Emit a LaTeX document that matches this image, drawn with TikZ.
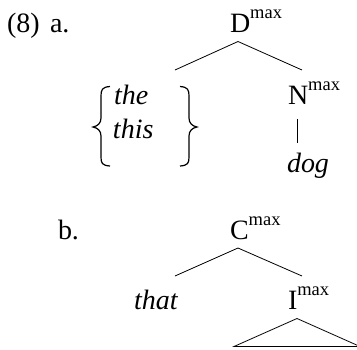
\documentclass[tikz,border=0pt]{standalone}
\usepackage{fontspec}
\setmainfont{Liberation Serif}
\newcommand{\mx}[1]{#1\raisebox{14pt}{\fontsize{18.5}{18.5}\selectfont max}}
\begin{document}
\begin{tikzpicture}[x=1pt,y=-1pt,
  lab/.style={inner sep=0pt,outer sep=0pt,anchor=base west,font=\fontsize{28}{32}\selectfont},
  branch/.style={line width=0.8pt},
  bracestyle/.style={line width=1.2pt}]
\useasboundingbox (0,0) rectangle (357,349);
% part a
\node[lab] (ex) at (7,32) {(8)};
\node[lab] (a) at (50,32) {a.};
\node[lab] (D) at (230,32) {\mx{D}};
\coordinate (Dtop) at (238,41.5);
\coordinate (Dl) at (175,70);
\coordinate (Dr) at (302,70);
\draw[branch] (Dl) -- (Dtop) -- (Dr);
% braces
\coordinate (lbt) at (110,86.5);
\coordinate (lbm) at (93,127);
\coordinate (lbb) at (110,166);
\draw[bracestyle] (lbt) .. controls (102,87) and (101,90) .. (101,96) -- (101,118)
  .. controls (101,123) and (98,126) .. (lbm)
  .. controls (98,128) and (101,131) .. (101,136) -- (101,157)
  .. controls (101,163) and (102,165.5) .. (lbb);
\coordinate (rbt) at (180,86.5);
\coordinate (rbm) at (197,127);
\coordinate (rbb) at (180,166);
\draw[bracestyle] (rbt) .. controls (188,87) and (189,90) .. (189,96) -- (189,118)
  .. controls (189,123) and (192,126) .. (rbm)
  .. controls (192,128) and (189,131) .. (189,136) -- (189,157)
  .. controls (189,163) and (188,165.5) .. (rbb);
\node[lab] (the) at (114,104) {\itshape the};
\node[lab] (this) at (113,138) {\itshape this};
\node[lab] (N) at (288,104) {\mx{N}};
\coordinate (Nb) at (297.5,119);
\coordinate (dg) at (297.5,143);
\draw[branch] (Nb) -- (dg);
\node[lab] (dog) at (287,172) {\itshape dog};
% part b
\node[lab] (b) at (58,239) {b.};
\node[lab] (C) at (230,239) {\mx{C}};
\coordinate (Ctop) at (238,248);
\coordinate (Cl) at (175,276);
\coordinate (Cr) at (302,276);
\draw[branch] (Cl) -- (Ctop) -- (Cr);
\node[lab] (that) at (134,309) {\itshape that};
\node[lab] (I) at (288,309) {\mx{I}};
\coordinate (Itop) at (297,318.5);
\coordinate (Il) at (234,346.5);
\coordinate (Ir) at (360,346.5);
\draw[branch] (Il) -- (Itop) -- (Ir) -- cycle;
\end{tikzpicture}
\end{document}
